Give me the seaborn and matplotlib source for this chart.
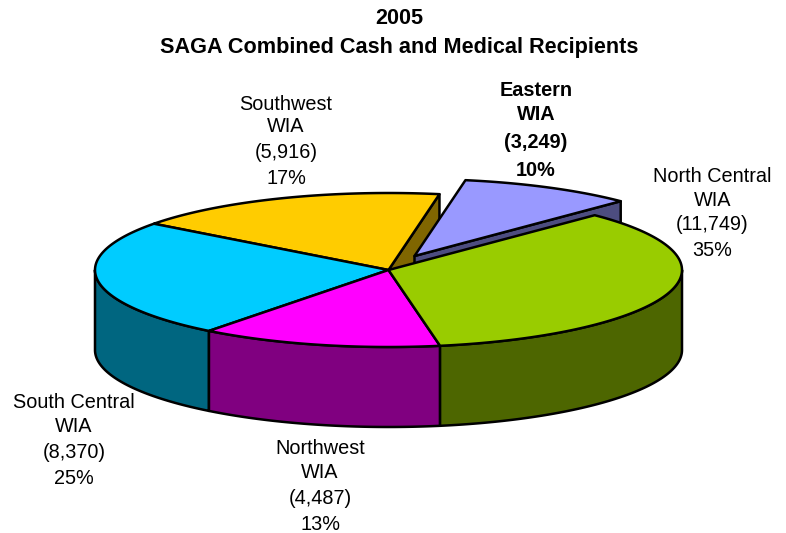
import numpy as np
import matplotlib
matplotlib.use("Agg")
import matplotlib.pyplot as plt
from matplotlib.colors import to_rgb
import seaborn as sns

# slices clockwise, starting at the exploded one
names = ["Eastern", "North Central", "Northwest", "South Central", "Southwest"]
recipients = [3249, 11749, 4487, 8370, 5916]
percent_labels = ["10%", "35%", "13%", "25%", "17%"]
top_colors = ["#9999FF", "#99CC00", "#FF00FF", "#00CCFF", "#FFCC00"]
title_lines = ["2005", "SAGA Combined Cash and Medical Recipients"]

sns.set_theme(style="white")
plt.rcParams["font.family"] = ["Liberation Sans", "DejaVu Sans"]

fig, ax = plt.subplots(figsize=(7.86, 5.33), dpi=100)
ax.set_position([0, 0, 1, 1])
ax.set_xlim(0, 786)
ax.set_ylim(533, 0)
ax.axis("off")

# pie geometry in pixels
cx, cy = 388.5, 270
rx, ry = 293.5, 77
depth = 80
start = 10
explode = (26, -14)
lw = 1.8

vals = np.array(recipients, dtype=float)
edges = start + np.concatenate([[0], np.cumsum(vals)]) / vals.sum() * 360


def rim(t0, t1, ox=0, oy=0):
    t = np.radians(np.linspace(t0, t1, 120))
    return cx + ox + rx * np.sin(t), cy + oy - ry * np.cos(t)


def radial_wall(t, color, ox=0, oy=0):
    x, y = rim(t, t, ox, oy)
    xs = [cx + ox, x[0], x[0], cx + ox]
    ys = [cy + oy, y[0], y[0] + depth, cy + oy + depth]
    ax.fill(xs, ys, facecolor=color, edgecolor="black", lw=lw, joinstyle="round")


def outer_wall(t0, t1, color):
    t0, t1 = max(t0, 90), min(t1, 270)
    if t1 <= t0:
        return
    x, y = rim(t0, t1)
    xs = np.concatenate([x, x[::-1]])
    ys = np.concatenate([y, y[::-1] + depth])
    ax.fill(xs, ys, facecolor=color, edgecolor="black", lw=lw, joinstyle="round")


def top(t0, t1, color, ox=0, oy=0):
    x, y = rim(t0, t1, ox, oy)
    xs = np.concatenate([[cx + ox], x])
    ys = np.concatenate([[cy + oy], y])
    ax.fill(xs, ys, facecolor=color, edgecolor="black", lw=lw, joinstyle="round")


dark = [tuple(np.array(to_rgb(c)) * 0.5) for c in top_colors]

# back to front: the wall behind the exploded slice, the slice, then the rest
radial_wall(edges[0], dark[4])
radial_wall(edges[1], dark[0], *explode)
top(edges[0], edges[1], top_colors[0], *explode)
for i in [3, 2, 1]:
    outer_wall(edges[i], edges[i + 1], dark[i])
for i in [4, 3, 2, 1]:
    top(edges[i], edges[i + 1], top_colors[i])

# labels: centre x, y of each of the four lines
label_pos = {
    "Eastern": (536, [90, 115, 142, 170]),
    "North Central": (712.5, [176, 200, 225, 251]),
    "Northwest": (320, [449, 473, 498, 524]),
    "South Central": (74, [402, 427, 452, 478]),
    "Southwest": (286, [104, 127, 152, 178]),
}
for name, value, pct in zip(names, recipients, percent_labels):
    lx, ys = label_pos[name]
    lines = [name, "WIA", f"({value:,})", pct]
    for line, ly in zip(lines, ys):
        ax.text(lx, ly, line, ha="center", va="center", fontsize=14.3, color="black",
                fontweight="bold" if name == "Eastern" else "normal")

for line, ly in zip(title_lines, [19, 48]):
    ax.text(399, ly, line, ha="center", va="center", fontsize=15.6, fontweight="bold", color="black")

sns.despine(ax=ax, left=True, bottom=True)
fig.savefig("out.png", dpi=100, facecolor="white")
